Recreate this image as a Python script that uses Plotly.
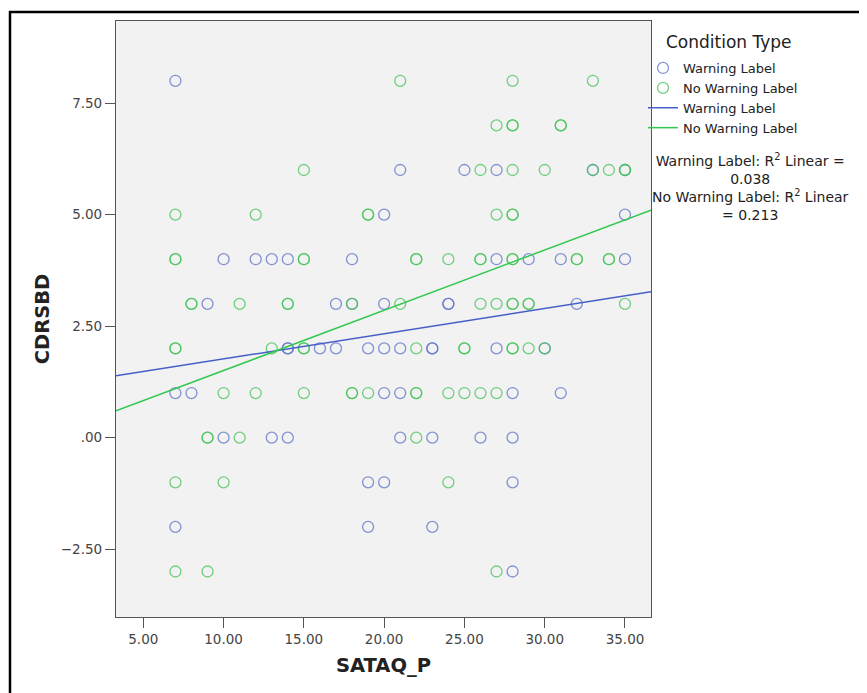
import numpy as np
import plotly.graph_objects as go

# Warning Label (blue) points: SATAQ_P, CDRSBD
warn_x = [7, 20, 10, 12, 13, 14, 18, 9, 17, 18, 20,
          21, 25, 27, 33, 35, 35,
          27, 29, 31, 35,
          24, 24, 32,
          14, 14, 16, 17, 19, 20, 21, 23, 23, 27, 30,
          7, 8, 20, 21, 28, 31,
          10, 13, 14, 21, 23, 26, 28,
          19, 20, 28,
          7, 19, 23,
          28]
warn_y = [8, 5, 4, 4, 4, 4, 4, 3, 3, 3, 3,
          6, 6, 6, 6, 6, 5,
          4, 4, 4, 4,
          3, 3, 3,
          2, 2, 2, 2, 2, 2, 2, 2, 2, 2, 2,
          1, 1, 1, 1, 1, 1,
          0, 0, 0, 0, 0, 0, 0,
          -1, -1, -1,
          -2, -2, -2,
          -3]

# No Warning Label (green) points
nowarn_x = [21, 28, 33,
            27, 28, 28, 31, 31,
            15, 26, 28, 30, 33, 34, 35, 35,
            7, 12, 19, 19, 27, 28, 28,
            7, 7, 15, 15, 22, 22, 24, 26, 26, 28, 28, 32, 32, 34, 34,
            8, 8, 11, 14, 14, 18, 21, 26, 27, 28, 28, 29, 29, 35,
            7, 7, 13, 15, 15, 22, 25, 25, 28, 28, 29, 30,
            10, 12, 15, 18, 18, 19, 22, 22, 24, 25, 26, 27,
            9, 9, 11, 22,
            7, 10, 24,
            7, 9, 27]
nowarn_y = [8, 8, 8,
            7, 7, 7, 7, 7,
            6, 6, 6, 6, 6, 6, 6, 6,
            5, 5, 5, 5, 5, 5, 5,
            4, 4, 4, 4, 4, 4, 4, 4, 4, 4, 4, 4, 4, 4, 4,
            3, 3, 3, 3, 3, 3, 3, 3, 3, 3, 3, 3, 3, 3,
            2, 2, 2, 2, 2, 2, 2, 2, 2, 2, 2, 2,
            1, 1, 1, 1, 1, 1, 1, 1, 1, 1, 1, 1,
            0, 0, 0, 0,
            -1, -1, -1,
            -3, -3, -3]

# Linear fit lines: (intercept, slope)
fit_warn = (1.20, 0.0565)
fit_nowarn = (0.154, 0.1351)

x_ticks = [5, 10, 15, 20, 25, 30, 35]
x_tick_text = ["5.00", "10.00", "15.00", "20.00", "25.00", "30.00", "35.00"]
y_ticks = [-2.5, 0, 2.5, 5, 7.5]
y_tick_text = ["\u22122.50", ".00", "2.50", "5.00", "7.50"]
r2_warn = "0.038"
r2_nowarn = "0.213"

x_range = [3.3, 36.62]
y_range = [-4.02, 9.34]

BLUE = "rgb(92,112,200)"
GREEN = "rgb(66,196,86)"
BLUE_LINE = "rgb(70,95,200)"
GREEN_LINE = "rgb(50,200,80)"
FONT = "DejaVu Sans"

fig = go.Figure()
fig.add_trace(go.Scatter(x=warn_x, y=warn_y, mode="markers", name="Warning Label",
                         marker=dict(symbol="circle-open", size=11, color=BLUE,
                                     line=dict(width=1.3), opacity=0.75)))
fig.add_trace(go.Scatter(x=nowarn_x, y=nowarn_y, mode="markers", name="No Warning Label",
                         marker=dict(symbol="circle-open", size=11, color=GREEN,
                                     line=dict(width=1.3), opacity=0.75)))

xl = np.array(x_range)
for (a, b), nm, col in [(fit_warn, "Warning Label", BLUE_LINE),
                        (fit_nowarn, "No Warning Label", GREEN_LINE)]:
    fig.add_trace(go.Scatter(x=xl, y=a + b * xl, mode="lines", name=nm,
                             line=dict(color=col, width=1.5)))

# legend title
fig.add_annotation(xref="paper", yref="paper", x=(664 - 116) / 535, y=(617 - 30) / 596,
                   xanchor="left", yanchor="top", showarrow=False,
                   text="Condition Type", font=dict(family=FONT, size=17, color="#222"))

fig.add_annotation(xref="paper", yref="paper", x=(750 - 116) / 535, y=(617 - 149) / 596,
                   xanchor="center", yanchor="top", showarrow=False, align="center",
                   text=f"Warning Label: R<sup>2</sup> Linear =<br>{r2_warn}<br>No Warning Label: R<sup>2</sup> Linear<br>= {r2_nowarn}",
                   font=dict(family=FONT, size=14, color="#222"))

# outer frame
fig.add_shape(type="rect", xref="paper", yref="paper",
              x0=(10 - 116) / 535, x1=(864 - 116) / 535, y0=-0.2, y1=(617 - 12) / 596,
              line=dict(color="black", width=2.5), layer="above")

axis_common = dict(showline=True, linecolor="#555", linewidth=1.2, mirror=True,
                   ticks="outside", ticklen=10, tickcolor="#555", showgrid=False,
                   zeroline=False, tickfont=dict(family=FONT, size=13.5, color="#444"))
fig.update_xaxes(range=x_range, tickvals=x_ticks, ticktext=x_tick_text,
                 title=dict(text="<b>SATAQ_P</b>", font=dict(family=FONT, size=19.5, color="#222"), standoff=12),
                 **axis_common)
fig.update_yaxes(range=y_range, tickvals=y_ticks, ticktext=y_tick_text,
                 title=dict(text="<b>CDRSBD</b>", font=dict(family=FONT, size=19.5, color="#222"), standoff=6),
                 **axis_common)

# page body has an 8px margin; compensate so the plot area sits at x 116-651, y 21-617
fig.update_layout(
    width=859, height=685,
    margin=dict(l=108, r=216, t=13, b=76),
    plot_bgcolor="#f2f2f2", paper_bgcolor="white",
    legend=dict(x=(643 - 116) / 535, y=(617 - 53) / 596, xanchor="left", yanchor="top",
                font=dict(family=FONT, size=13, color="#222"),
                bgcolor="rgba(0,0,0,0)", tracegroupgap=0, itemwidth=30),
    showlegend=True,
)

fig.write_html("out.html")
